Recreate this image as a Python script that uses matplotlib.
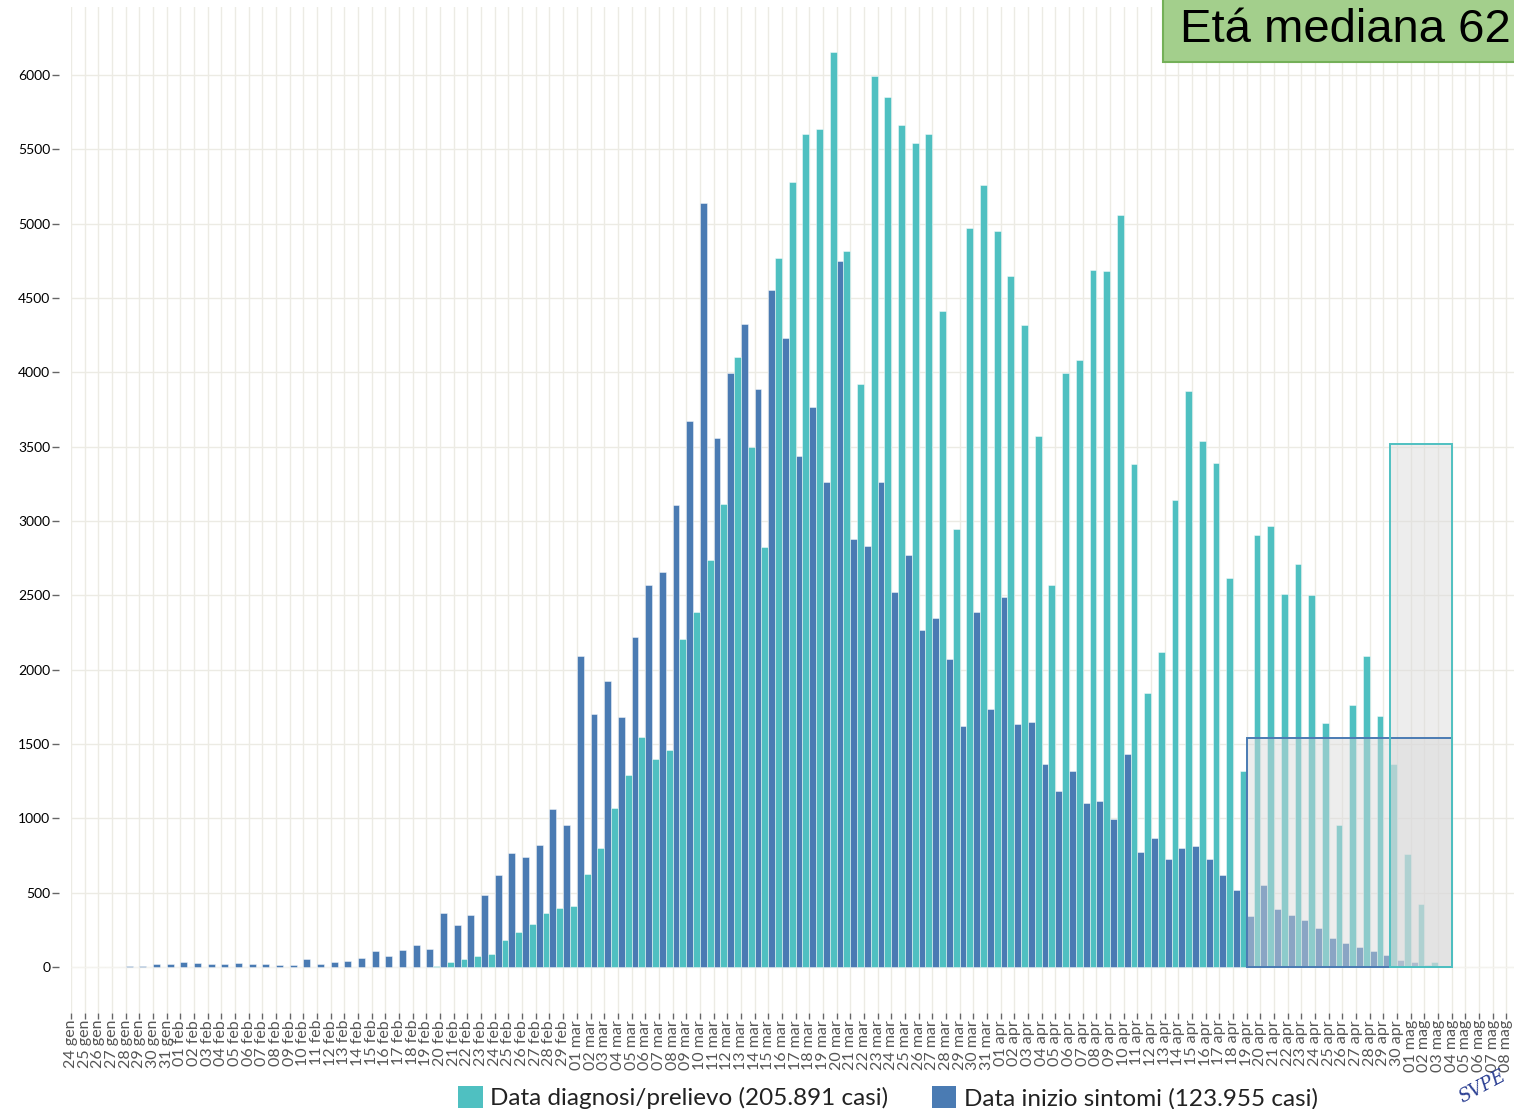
import matplotlib
matplotlib.use("Agg")
import matplotlib.pyplot as plt
from matplotlib.patches import Rectangle, Patch

# months shown on the axis (24 gen -> 08 mag)
months = [("gen", 24, 31), ("feb", 1, 29), ("mar", 1, 31), ("apr", 1, 30), ("mag", 1, 8)]
day_labels = ["%02d %s" % (d, m) for m, a, b in months for d in range(a, b + 1)]

# Data inizio sintomi (one value per day, from 24 gen)
onset = [0, 0, 0, 0, 10, 10, 18, 18, 31, 27, 22, 22, 27, 22, 18, 11, 11, 51, 22, 36,
         40, 60, 111, 73, 118, 151, 120, 365, 283, 347, 485, 621, 770, 742, 819, 1064, 958,
         2089, 1700, 1926, 1680, 2218, 2570, 2658, 3107, 3673, 5136, 3561, 3994, 4326, 3885,
         4555, 4234, 3436, 3765, 3264, 4747, 2879, 2835, 3264, 2522, 2771, 2265, 2350, 2073,
         1620, 2386, 1736, 2486, 1632, 1648, 1366, 1184, 1317, 1106, 1116, 993, 1433, 775,
         870, 727, 799, 816, 727, 620, 520, 345, 551, 389, 350, 314, 260, 196, 162, 134,
         106, 82, 49, 31, 12, 4, 0, 0, 0, 0, 0]

# Data diagnosi/prelievo
diagnosis = [0, 0, 0, 0, 3, 0, 0, 0, 0, 0, 0, 0, 3, 0, 0, 0, 0, 0, 0, 0,
             0, 0, 0, 0, 0, 0, 8, 33, 52, 75, 86, 182, 236, 288, 365, 394, 414,
             629, 799, 1070, 1294, 1549, 1399, 1463, 2209, 2390, 2735, 3111, 4106, 3497, 2827,
             4768, 5277, 5601, 5634, 6151, 4815, 3921, 5990, 5850, 5666, 5541, 5601, 4415, 2943,
             4972, 5257, 4948, 4651, 4318, 3569, 2572, 3993, 4082, 4689, 4679, 5055, 3382, 1846,
             2116, 3143, 3874, 3541, 3390, 2615, 1318, 2903, 2964, 2509, 2712, 2501, 1639, 957,
             1765, 2090, 1688, 1364, 759, 425, 36, 5, 0, 0, 0, 0, 0]

# incomplete-data windows (start day index, end day index, height)
onset_window = (86, 101, 1540)
diag_window = (96.5, 101, 3518)

teal = "#4fc0c1"
blue = "#4a7bb3"
grid_col = "#ecebe4"

plt.rcParams["font.family"] = ["Lato", "DejaVu Sans"]

fig = plt.figure(figsize=(15.14, 11.09), dpi=100)
ax = fig.add_axes([71 / 1514, 96 / 1109, 1443 / 1514, 1006 / 1109])

x = list(range(len(day_labels)))
ax.bar([i + 0.25 for i in x], onset, width=0.5, color=blue,
       edgecolor=(1, 1, 1, 0.45), linewidth=0.7, zorder=3)
ax.bar([i + 0.75 for i in x], diagnosis, width=0.5, color=teal,
       edgecolor=(1, 1, 1, 0.45), linewidth=0.7, zorder=3)

# shaded windows
for (a, b, h), ec in [(onset_window, blue), (diag_window, teal)]:
    ax.add_patch(Rectangle((a, 0), b - a, h, facecolor="#d9d9d9", alpha=0.45,
                           edgecolor="none", zorder=4))
    ax.add_patch(Rectangle((a, 0), b - a, h, facecolor="none", edgecolor=ec,
                           linewidth=1.4, zorder=5))

ax.set_xlim(0, 105.55)
ax.set_ylim(-309, 6457)
ax.set_xticks(x)
ax.set_xticklabels(day_labels, rotation=90, fontsize=11.5, color="#555555")
ax.set_yticks(range(0, 6001, 500))
ax.set_yticklabels([str(v) for v in range(0, 6001, 500)], fontsize=11, color="#555555")
ax.tick_params(axis="x", length=4, width=1, color="#666666", pad=1)
ax.tick_params(axis="y", length=5, width=1, color="#666666", pad=1)
ax.grid(True, color=grid_col, linewidth=1, zorder=0)
ax.set_axisbelow(True)
for s in ax.spines.values():
    s.set_visible(False)
ax.spines["left"].set_position(("outward", 9))

# legend at the bottom
handles = [Patch(facecolor=teal, label="Data diagnosi/prelievo (205.891 casi)"),
           Patch(facecolor=blue, label="Data inizio sintomi (123.955 casi)")]
fig.legend(handles=handles, loc="lower center", bbox_to_anchor=(888 / 1514, -0.02),
           ncol=2, frameon=False, fontsize=17.5, handlelength=1.0, handleheight=1.0,
           handletextpad=0.3, columnspacing=1.8, labelcolor="#222222")

# median age box
fig.patches.append(Rectangle((1163 / 1514, 1 - 62 / 1109), 0.3, 0.1, transform=fig.transFigure,
                             facecolor="#a3cf8c", edgecolor="#74b058", linewidth=1.5, zorder=10))
fig.text(1180 / 1514, 1 - 42 / 1109, "Etá mediana 62", fontsize=34, color="black",
         family="Liberation Sans", va="baseline", zorder=11)

# watermark
fig.text(1456 / 1514, 0.002, "SVPE", fontsize=13, color="#2b3f93", family="DejaVu Serif",
         rotation=28, va="bottom", ha="left", style="italic")

fig.savefig("out.png", dpi=100)
